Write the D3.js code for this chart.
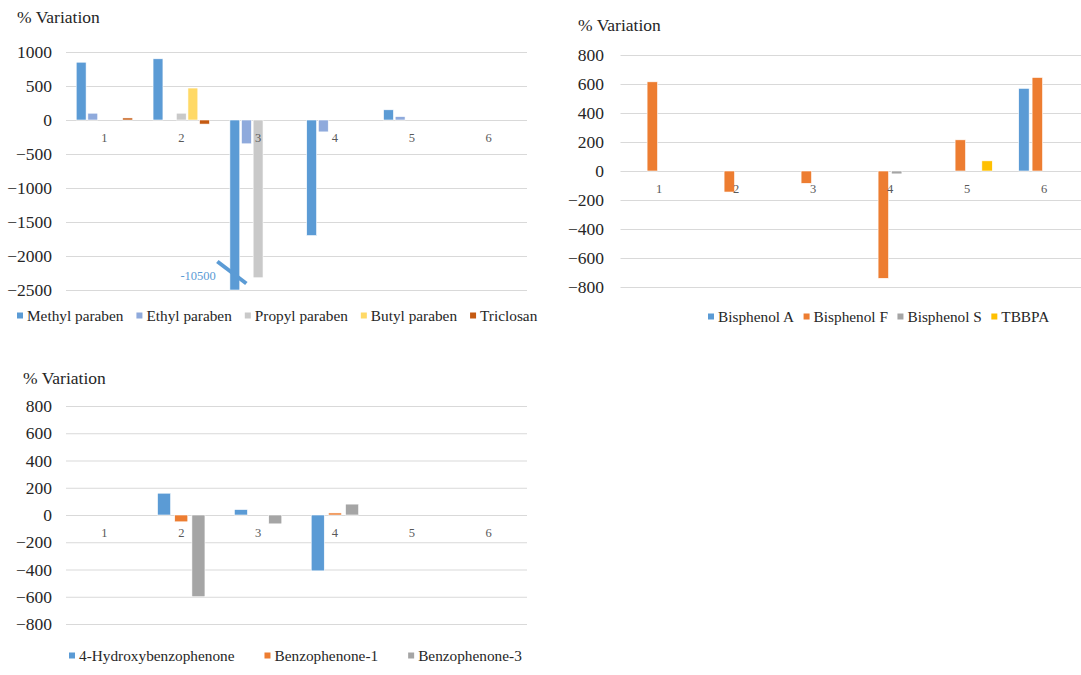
<!DOCTYPE html>
<html>
<head>
<meta charset="utf-8">
<script src="https://cdn.jsdelivr.net/npm/d3@7"></script>
<style>
  html, body { margin: 0; padding: 0; background: #ffffff; }
  svg { display: block; }
  text { font-family: "Liberation Serif", "Times New Roman", serif; }
</style>
</head>
<body>
<svg id="fig" width="1081" height="675"></svg>
<script>
// Sampling points shared by all three panels
const categories = ["1", "2", "3", "4", "5", "6"];

// Panel A: parabens and triclosan (% variation)
const parabenSeries = ["Methyl paraben", "Ethyl paraben", "Propyl paraben", "Butyl paraben", "Triclosan"];
const methylParaben = [850, 900, -10500, -1700, 150, null];
const ethylParaben  = [100, null, -350, -175, 50, null];
const propylParaben = [null, 100, -2320, null, null, null];
const butylParaben  = [null, 470, null, null, null, null];
const triclosan     = [30, -60, null, null, null, null];
const parabenTicks  = [1000, 500, 0, -500, -1000, -1500, -2000, -2500];

// Panel B: bisphenols (% variation)
const bisphenolSeries = ["Bisphenol A", "Bisphenol F", "Bisphenol S", "TBBPA"];
const bisphenolA = [null, null, null, null, null, 570];
const bisphenolF = [615, -145, -85, -740, 215, 645];
const bisphenolS = [null, null, null, -20, null, null];
const tbbpa      = [null, null, null, null, 70, null];
const bisphenolTicks = [800, 600, 400, 200, 0, -200, -400, -600, -800];

// Panel C: benzophenones (% variation)
const benzophenoneSeries = ["4-Hydroxybenzophenone", "Benzophenone-1", "Benzophenone-3"];
const hydroxyBenzophenone = [null, 160, 40, -410, null, null];
const benzophenone1       = [null, -50, null, 15, null, null];
const benzophenone3       = [null, -600, -65, 80, null, null];
const benzophenoneTicks = [800, 600, 400, 200, 0, -200, -400, -600, -800];

const yTitle = "% Variation";
const brokenValueLabel = "-10500";

const svg = d3.select("#fig");

function drawPanel(cfg) {
  const g = svg.append("g");
  const yMin = d3.min(cfg.ticks), yMax = d3.max(cfg.ticks);
  const y = d3.scaleLinear().domain([yMin, yMax]).range([cfg.bottom, cfg.top]).clamp(true);
  const x0 = d3.scaleBand().domain(categories).range([cfg.left, cfg.right]).padding(0);
  const bw = x0.bandwidth();
  const groupW = bw * cfg.groupFrac;
  const x1 = d3.scaleBand().domain(cfg.series)
    .range([(bw - groupW) / 2, (bw + groupW) / 2])
    .paddingInner(cfg.barPad).paddingOuter(0);
  const color = d3.scaleOrdinal().domain(cfg.series).range(cfg.colors);

  // gridlines + value labels
  const yAxis = g.append("g")
    .attr("transform", `translate(${cfg.left},0)`)
    .call(d3.axisLeft(y).tickValues(cfg.ticks).tickFormat(d3.format("d"))
      .tickSize(-(cfg.gridRight - cfg.left)).tickPadding(cfg.yPad));
  yAxis.select(".domain").remove();
  yAxis.selectAll(".tick line").attr("stroke", "#d9d9d9").attr("stroke-width", 1);
  yAxis.selectAll(".tick text")
    .attr("fill", "#262626")
    .style("font-size", "17.5px")
    .style("font-family", '"Liberation Serif", "Times New Roman", serif');

  // bars
  const rows = [];
  cfg.series.forEach((s, si) => {
    cfg.values[si].forEach((v, ci) => {
      if (v !== null) rows.push({ s, c: categories[ci], v });
    });
  });
  g.append("g").selectAll("rect").data(rows).join("rect")
    .attr("x", d => x0(d.c) + x1(d.s))
    .attr("width", x1.bandwidth())
    .attr("y", d => Math.min(y(d.v), y(0)))
    .attr("height", d => Math.abs(y(d.v) - y(0)))
    .attr("fill", d => color(d.s))
    .attr("stroke", "#ffffff")
    .attr("stroke-width", 0.6);

  // category labels hang just under the zero line
  const xAxis = g.append("g")
    .attr("transform", `translate(0,${y(0)})`)
    .call(d3.axisBottom(x0).tickSize(0).tickPadding(13));
  xAxis.select(".domain").remove();
  xAxis.selectAll(".tick text")
    .attr("fill", "#595959")
    .style("font-size", "12.5px")
    .style("font-family", '"Liberation Serif", "Times New Roman", serif');

  // axis title
  g.append("text")
    .attr("x", cfg.titleX).attr("y", cfg.titleY)
    .attr("dominant-baseline", "central")
    .attr("fill", "#262626")
    .style("font-size", "17.5px")
    .text(yTitle);

  // legend
  const lg = g.append("g");
  let cx = cfg.legendX;
  cfg.series.forEach(s => {
    lg.append("rect")
      .attr("x", cx).attr("y", cfg.legendY - 3)
      .attr("width", 6).attr("height", 6)
      .attr("fill", color(s));
    const t = lg.append("text")
      .attr("x", cx + 10).attr("y", cfg.legendY)
      .attr("dominant-baseline", "central")
      .attr("fill", "#262626")
      .style("font-size", "15.3px")
      .text(s);
    cx += 10 + t.node().getComputedTextLength() + cfg.legendGap;
  });

  return { g, x0, x1, y };
}

// Panel A
const pa = drawPanel({
  series: parabenSeries,
  values: [methylParaben, ethylParaben, propylParaben, butylParaben, triclosan],
  colors: ["#5b9bd5", "#8faadc", "#c9c9c9", "#ffd966", "#c55a11"],
  ticks: parabenTicks,
  left: 66, right: 527, gridRight: 527, top: 52, bottom: 290,
  groupFrac: 0.734, barPad: 0.15, yPad: 14,
  titleX: 17, titleY: 17,
  legendX: 17, legendY: 315.5, legendGap: 13
});

// break marker on the bar that runs past the axis minimum
(function () {
  const ci = methylParaben.findIndex(v => v !== null && v < d3.min(parabenTicks));
  const cat = categories[ci];
  const bx = pa.x0(cat) + pa.x1(parabenSeries[0]) + pa.x1.bandwidth() / 2;
  const by = pa.y(d3.min(parabenTicks)) - 17.5;
  pa.g.append("line")
    .attr("x1", bx - 17.5).attr("y1", by - 11)
    .attr("x2", bx + 11.5).attr("y2", by + 11)
    .attr("stroke", "#5b9bd5").attr("stroke-width", 4);
  pa.g.append("text")
    .attr("x", bx - 19).attr("y", by + 3.5)
    .attr("text-anchor", "end")
    .attr("dominant-baseline", "central")
    .attr("fill", "#5b9bd5")
    .style("font-size", "12.5px")
    .text(brokenValueLabel);
})();

// Panel B
drawPanel({
  series: bisphenolSeries,
  values: [bisphenolA, bisphenolF, bisphenolS, tbbpa],
  colors: ["#5b9bd5", "#ed7d31", "#a5a5a5", "#ffc000"],
  ticks: bisphenolTicks,
  left: 620.5, right: 1082.5, gridRight: 1082.5, top: 55, bottom: 287,
  groupFrac: 0.657, barPad: 0.22, yPad: 16.5,
  titleX: 578, titleY: 25,
  legendX: 708, legendY: 316.5, legendGap: 9.5
});

// Panel C
drawPanel({
  series: benzophenoneSeries,
  values: [hydroxyBenzophenone, benzophenone1, benzophenone3],
  colors: ["#5b9bd5", "#ed7d31", "#a5a5a5"],
  ticks: benzophenoneTicks,
  left: 66, right: 527, gridRight: 527, top: 406, bottom: 624,
  groupFrac: 0.617, barPad: 0.24, yPad: 14,
  titleX: 23, titleY: 378,
  legendX: 69, legendY: 655.5, legendGap: 30
});
</script>
</body>
</html>
